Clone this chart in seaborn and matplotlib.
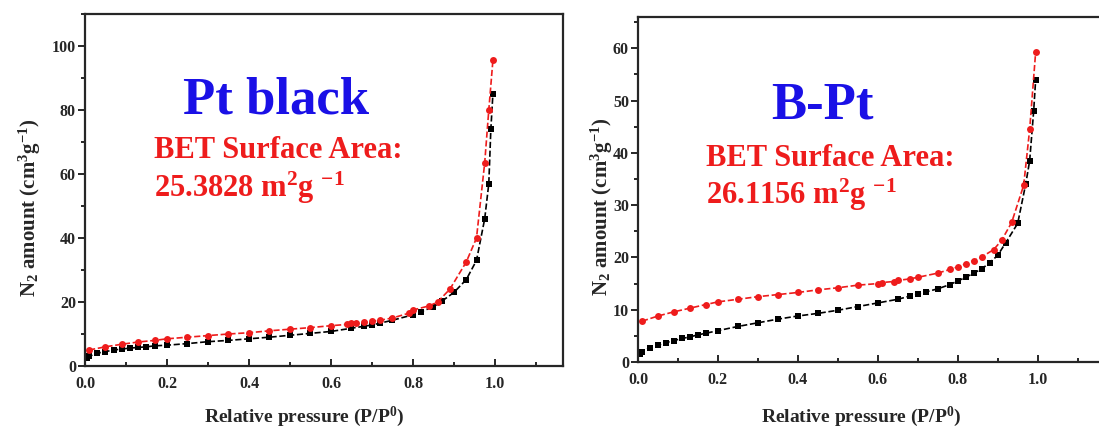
import matplotlib
matplotlib.use("Agg")
import matplotlib.pyplot as plt
from matplotlib.ticker import MultipleLocator
import seaborn as sns

# Pt black
ptb_black_x = [0.005, 0.01, 0.03, 0.05, 0.07, 0.09, 0.11, 0.13, 0.15, 0.17, 0.2, 0.25, 0.3, 0.35,
               0.4, 0.45, 0.5, 0.55, 0.6, 0.65, 0.68, 0.7, 0.72, 0.75, 0.8, 0.82, 0.85, 0.87,
               0.9, 0.93, 0.955, 0.975, 0.985, 0.99, 0.995]
ptb_black_y = [2.5, 3.0, 4.0, 4.5, 5.0, 5.3, 5.6, 5.8, 6.0, 6.3, 6.5, 7.0, 7.6, 8.0,
               8.5, 9.0, 9.6, 10.2, 10.8, 11.8, 12.4, 12.8, 13.4, 14.3, 16.0, 17.0, 18.5, 20.2,
               23.0, 27.0, 33.0, 46.0, 57.0, 74.0, 85.0]
ptb_red_x = [0.01, 0.05, 0.09, 0.13, 0.17, 0.2, 0.25, 0.3, 0.35, 0.4, 0.45, 0.5, 0.55, 0.6,
             0.64, 0.65, 0.66, 0.68, 0.7, 0.72, 0.75, 0.79, 0.8, 0.84, 0.86, 0.89, 0.93,
             0.955, 0.975, 0.985, 0.995]
ptb_red_y = [5.0, 6.0, 6.8, 7.5, 8.0, 8.5, 9.0, 9.5, 10.0, 10.4, 11.0, 11.5, 12.0, 12.6,
             13.0, 13.3, 13.4, 13.6, 14.0, 14.3, 15.0, 16.5, 17.5, 18.8, 20.0, 24.0, 32.5,
             40.0, 63.5, 80.0, 95.5]

# B-Pt
bpt_black_x = [0.005, 0.01, 0.03, 0.05, 0.07, 0.09, 0.11, 0.13, 0.15, 0.17, 0.2, 0.25, 0.3, 0.35,
               0.4, 0.45, 0.5, 0.55, 0.6, 0.65, 0.68, 0.7, 0.72, 0.75, 0.78, 0.8, 0.82, 0.84,
               0.86, 0.88, 0.9, 0.92, 0.95, 0.97, 0.98, 0.99, 0.995]
bpt_black_y = [1.5, 2.0, 2.7, 3.2, 3.7, 4.1, 4.5, 4.8, 5.2, 5.5, 6.0, 6.8, 7.5, 8.2,
               8.8, 9.3, 9.9, 10.6, 11.3, 12.0, 12.6, 13.0, 13.4, 14.0, 14.8, 15.5, 16.2, 17.0,
               17.8, 19.0, 20.4, 22.8, 26.5, 34.0, 38.5, 48.0, 54.0]
bpt_red_x = [0.01, 0.05, 0.09, 0.13, 0.17, 0.2, 0.25, 0.3, 0.35, 0.4, 0.45, 0.5, 0.55, 0.6,
             0.61, 0.64, 0.65, 0.68, 0.7, 0.75, 0.78, 0.8, 0.82, 0.84, 0.86, 0.89, 0.91,
             0.935, 0.965, 0.98, 0.995]
bpt_red_y = [7.8, 8.8, 9.6, 10.3, 11.0, 11.5, 12.0, 12.5, 12.9, 13.3, 13.8, 14.2, 14.7, 15.0,
             15.2, 15.4, 15.6, 15.9, 16.2, 17.0, 17.7, 18.2, 18.8, 19.4, 20.1, 21.5, 23.3,
             26.7, 33.8, 44.5, 59.3]

panel_names = ["Pt black", "B-Pt"]
bet_values = ["25.3828", "26.1156"]

## Style
sns.set_style("ticks")
plt.rcParams['font.family'] = ['Liberation Serif', 'DejaVu Serif']
plt.rcParams['font.weight'] = 'bold'
plt.rcParams['mathtext.default'] = 'regular'
plt.rcParams['axes.linewidth'] = 1.6

fig = plt.figure(figsize=(10.99, 4.36), dpi=100)
W, H = 1099, 436
ax1 = fig.add_axes([85 / W, (H - 366) / H, 478 / W, 352 / H])
ax2 = fig.add_axes([638 / W, (H - 362) / H, 466 / W, 345 / H])

red = '#ee1c1c'
blue = '#1a10e6'

panels = [
    (ax1, ptb_black_x, ptb_black_y, ptb_red_x, ptb_red_y, 110, 20, 10, (-0.088, 0.45), (0.458, -0.11)),
    (ax2, bpt_black_x, bpt_black_y, bpt_red_x, bpt_red_y, 66, 10, 5, (-0.05, 0.45), (0.478, -0.125)),
]

for ax, bx, by, rx, ry, ymax, ymaj, ymin, ylab_pos, xlab_pos in panels:
    sns.lineplot(x=bx, y=by, ax=ax, color='black', marker='s', markersize=5,
                 markeredgewidth=0, linestyle='--', linewidth=1.2, sort=False, errorbar=None)
    sns.lineplot(x=rx, y=ry, ax=ax, color=red, marker='o', markersize=5,
                 markeredgewidth=0, linestyle='--', linewidth=1.2, sort=False, errorbar=None)
    ax.set_xlim(0, 1.166)
    ax.set_ylim(0, ymax)
    ax.xaxis.set_minor_locator(MultipleLocator(0.1))
    ax.yaxis.set_major_locator(MultipleLocator(ymaj))
    ax.yaxis.set_minor_locator(MultipleLocator(ymin))
    ax.set_xticks([0.0, 0.2, 0.4, 0.6, 0.8, 1.0])
    ax.tick_params(axis='x', which='both', direction='in', labelsize=11.5, width=1.4, pad=7)
    ax.tick_params(axis='x', which='major', length=5)
    ax.tick_params(axis='x', which='minor', length=3)
    ax.tick_params(axis='y', which='both', direction='out', labelsize=11.5, width=1.4, pad=1.5)
    ax.tick_params(axis='y', which='major', length=5)
    ax.tick_params(axis='y', which='minor', length=3)
    for lab in ax.get_xticklabels() + ax.get_yticklabels():
        lab.set_fontweight('bold')
    for s in ax.spines.values():
        s.set_visible(True)
        s.set_linewidth(1.6)
    ax.set_xlabel("Relative pressure (P/P$^0$)", fontsize=14, fontweight='bold')
    ax.set_ylabel("N$_2$ amount (cm$^3$g$^{-1}$)", fontsize=15, fontweight='bold')
    ax.xaxis.set_label_coords(*xlab_pos)
    ax.yaxis.set_label_coords(*ylab_pos)

## Annotations
fig.text(276 / W, 1 - 100 / H, panel_names[0], color=blue, fontsize=38, fontweight='bold',
         ha='center', va='center')
fig.text(154 / W, 1 - 151 / H, "BET Surface Area:", color=red, fontsize=22, fontweight='bold',
         ha='left', va='center')
fig.text(154 / W, 1 - 188 / H, bet_values[0] + " m$^2$g $^{-1}$", color=red, fontsize=22,
         fontweight='bold', ha='left', va='center')

fig.text(822 / W, 1 - 105 / H, panel_names[1], color=blue, fontsize=38, fontweight='bold',
         ha='center', va='center')
fig.text(706 / W, 1 - 158 / H, "BET Surface Area:", color=red, fontsize=22, fontweight='bold',
         ha='left', va='center')
fig.text(706 / W, 1 - 195 / H, bet_values[1] + " m$^2$g $^{-1}$", color=red, fontsize=22,
         fontweight='bold', ha='left', va='center')

fig.savefig("out.png", dpi=100)
